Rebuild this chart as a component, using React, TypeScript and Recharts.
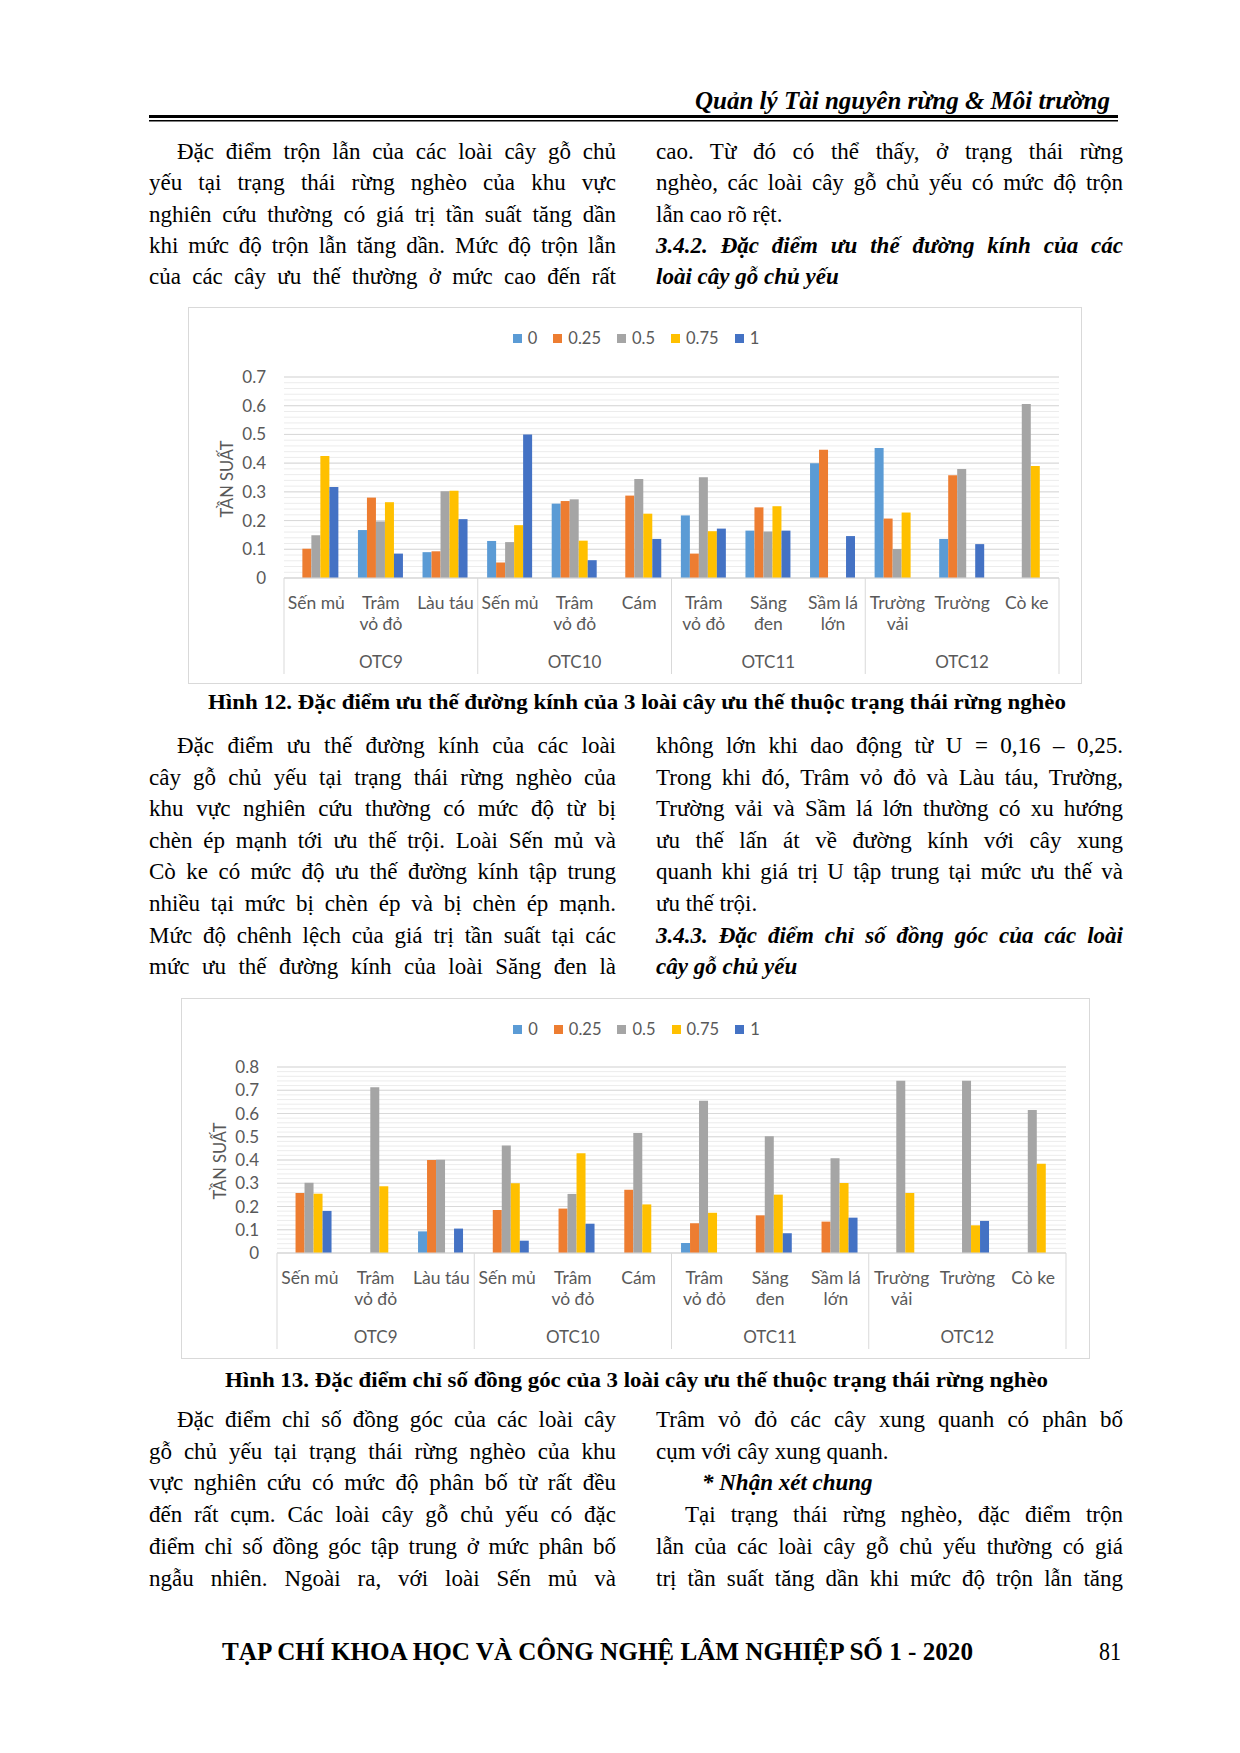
import React from 'react';
import { BarChart, Bar, XAxis, YAxis, CartesianGrid } from 'recharts';

// categories
const species = ['Sến mủ', 'Trâm vỏ đỏ', 'Làu táu', 'Sến mủ', 'Trâm vỏ đỏ', 'Cám', 'Trâm vỏ đỏ', 'Săng đen', 'Sầm lá lớn', 'Trường vải', 'Trường', 'Cò ke'];
const plots = ['OTC9', 'OTC10', 'OTC11', 'OTC12'];
const levels = ['0', '0.25', '0.5', '0.75', '1'];
const levelColors = ['#5B9BD5', '#ED7D31', '#A5A5A5', '#FFC000', '#4472C4'];

// Hình 12 - ưu thế đường kính
const dia0 = [0, 0.167, 0.09, 0.129, 0.259, 0, 0.218, 0.165, 0.4, 0.453, 0.136, 0];
const dia025 = [0.102, 0.28, 0.093, 0.054, 0.268, 0.287, 0.085, 0.246, 0.447, 0.207, 0.358, 0];
const dia05 = [0.149, 0.197, 0.302, 0.125, 0.274, 0.345, 0.351, 0.162, 0, 0.101, 0.38, 0.606];
const dia075 = [0.425, 0.264, 0.304, 0.184, 0.13, 0.224, 0.163, 0.25, 0, 0.228, 0, 0.39];
const dia1 = [0.317, 0.085, 0.205, 0.5, 0.062, 0.136, 0.172, 0.165, 0.146, 0, 0.118, 0];
const diaTicks = [0, 0.1, 0.2, 0.3, 0.4, 0.5, 0.6, 0.7];

// Hình 13 - chỉ số đồng góc
const ang0 = [0, 0, 0.093, 0, 0, 0, 0.043, 0, 0, 0, 0, 0];
const ang025 = [0.258, 0, 0.4, 0.185, 0.191, 0.272, 0.128, 0.162, 0.135, 0, 0, 0];
const ang05 = [0.302, 0.713, 0.401, 0.462, 0.254, 0.516, 0.655, 0.502, 0.407, 0.741, 0.741, 0.615];
const ang075 = [0.255, 0.287, 0, 0.3, 0.429, 0.209, 0.173, 0.251, 0.301, 0.258, 0.119, 0.384];
const ang1 = [0.181, 0, 0.105, 0.053, 0.126, 0, 0, 0.085, 0.152, 0, 0.138, 0];
const angTicks = [0, 0.1, 0.2, 0.3, 0.4, 0.5, 0.6, 0.7, 0.8];

// page text
type Line = { t: string; j?: boolean; ind?: number; bi?: boolean };

const para1L: Line[] = [
  { t: 'Đặc điểm trộn lẫn của các loài cây gỗ chủ', j: true, ind: 28 },
  { t: 'yếu tại trạng thái rừng nghèo của khu vực', j: true },
  { t: 'nghiên cứu thường có giá trị tần suất tăng dần', j: true },
  { t: 'khi mức độ trộn lẫn tăng dần. Mức độ trộn lẫn', j: true },
  { t: 'của các cây ưu thế thường ở mức cao đến rất', j: true },
];
const para1R: Line[] = [
  { t: 'cao. Từ đó có thể thấy, ở trạng thái rừng', j: true },
  { t: 'nghèo, các loài cây gỗ chủ yếu có mức độ trộn', j: true },
  { t: 'lẫn cao rõ rệt.' },
  { t: '3.4.2. Đặc điểm ưu thế đường kính của các', j: true, bi: true },
  { t: 'loài cây gỗ chủ yếu', bi: true },
];
const para2L: Line[] = [
  { t: 'Đặc điểm ưu thế đường kính của các loài', j: true, ind: 28 },
  { t: 'cây gỗ chủ yếu tại trạng thái rừng nghèo của', j: true },
  { t: 'khu vực nghiên cứu thường có mức độ từ bị', j: true },
  { t: 'chèn ép mạnh tới ưu thế trội. Loài Sến mủ và', j: true },
  { t: 'Cò ke có mức độ ưu thế đường kính tập trung', j: true },
  { t: 'nhiều tại mức bị chèn ép và bị chèn ép mạnh.', j: true },
  { t: 'Mức độ chênh lệch của giá trị tần suất tại các', j: true },
  { t: 'mức ưu thế đường kính của loài Săng đen là', j: true },
];
const para2R: Line[] = [
  { t: 'không lớn khi dao động từ U = 0,16 – 0,25.', j: true },
  { t: 'Trong khi đó, Trâm vỏ đỏ và Làu táu, Trường,', j: true },
  { t: 'Trường vải và Sầm lá lớn thường có xu hướng', j: true },
  { t: 'ưu thế lấn át về đường kính với cây xung', j: true },
  { t: 'quanh khi giá trị U tập trung tại mức ưu thế và', j: true },
  { t: 'ưu thế trội.' },
  { t: '3.4.3. Đặc điểm chỉ số đồng góc của các loài', j: true, bi: true },
  { t: 'cây gỗ chủ yếu', bi: true },
];
const para3L: Line[] = [
  { t: 'Đặc điểm chỉ số đồng góc của các loài cây', j: true, ind: 28 },
  { t: 'gỗ chủ yếu tại trạng thái rừng nghèo của khu', j: true },
  { t: 'vực nghiên cứu có mức độ phân bố từ rất đều', j: true },
  { t: 'đến rất cụm. Các loài cây gỗ chủ yếu có đặc', j: true },
  { t: 'điểm chỉ số đồng góc tập trung ở mức phân bố', j: true },
  { t: 'ngẫu nhiên. Ngoài ra, với loài Sến mủ và', j: true },
];
const para3R: Line[] = [
  { t: 'Trâm vỏ đỏ các cây xung quanh có phân bố', j: true },
  { t: 'cụm với cây xung quanh.' },
  { t: '* Nhận xét chung', bi: true, ind: 46 },
  { t: 'Tại trạng thái rừng nghèo, đặc điểm trộn', j: true, ind: 29 },
  { t: 'lẫn của các loài cây gỗ chủ yếu thường có giá', j: true },
  { t: 'trị tần suất tăng dần khi mức độ trộn lẫn tăng', j: true },
];

const wrapped: Record<string, string[]> = {
  'Trâm vỏ đỏ': ['Trâm', 'vỏ đỏ'],
  'Săng đen': ['Săng', 'đen'],
  'Sầm lá lớn': ['Sầm lá', 'lớn'],
  'Trường vải': ['Trường', 'vải'],
};

const chartFont = 'Lato, "Open Sans", sans-serif';
const gray = '#595959';

const TextCol = ({ x, y0, step, lines }: { x: number; y0: number; step: number; lines: Line[] }) => (
  <>
    {lines.map((l, k) => (
      <div
        key={k}
        style={{
          position: 'absolute',
          left: x + (l.ind || 0),
          top: y0 + k * step - 16,
          width: 467 - (l.ind || 0),
          height: 31,
          lineHeight: '31px',
          fontSize: 23,
          textAlign: 'justify',
          textAlignLast: l.j ? 'justify' : 'left',
          fontWeight: l.bi ? 700 : 400,
          fontStyle: l.bi ? 'italic' : 'normal',
        }}
      >
        {l.t}
      </div>
    ))}
  </>
);

const Legend = ({ cx, cy }: { cx: number; cy: number }) => (
  <div
    style={{
      position: 'absolute',
      left: cx - 200,
      width: 400,
      top: cy - 10,
      height: 20,
      display: 'flex',
      justifyContent: 'center',
      alignItems: 'center',
      gap: 16,
      fontFamily: chartFont,
      fontSize: 16.5,
      color: gray,
    }}
  >
    {levels.map((lv, i) => (
      <div key={lv} style={{ display: 'flex', alignItems: 'center', gap: 6 }}>
        <span style={{ width: 9, height: 9, background: levelColors[i], display: 'inline-block' }} />
        <span>{lv}</span>
      </div>
    ))}
  </div>
);

const makeTick = (band: number) => (props: any) => {
  const { x, y, payload } = props;
  const i = Number(payload.value);
  const name = species[i];
  const lines = wrapped[name] || [name];
  return (
    <g>
      {lines.map((ln, k) => (
        <text key={k} x={x} y={y + 24 + k * 21} textAnchor="middle" dominantBaseline="central" fill={gray} fontSize={17.5} fontFamily={chartFont}>
          {ln}
        </text>
      ))}
      {i % 3 === 0 && <line x1={x - band / 2} x2={x - band / 2} y1={y} y2={y + 96} stroke="#d9d9d9" />}
      {i === species.length - 1 && <line x1={x + band / 2} x2={x + band / 2} y1={y} y2={y + 96} stroke="#d9d9d9" />}
      {i % 3 === 1 && (
        <text x={x} y={y + 83} textAnchor="middle" dominantBaseline="central" fill={gray} fontSize={17} fontFamily={chartFont}>
          {plots[Math.floor(i / 3)]}
        </text>
      )}
    </g>
  );
};

type ChartProps = {
  left: number;
  top: number;
  width: number;
  height: number;
  marginTop: number;
  marginRight: number;
  series: number[][];
  ticks: number[];
};

const GroupedChart = ({ left, top, width, height, marginTop, marginRight, series, ticks }: ChartProps) => {
  const data = species.map((name, i) => {
    const row: Record<string, number | string> = { idx: i, name };
    levels.forEach((lv, s) => {
      row['v' + s] = series[s][i];
    });
    return row;
  });
  const yMax = ticks[ticks.length - 1];
  const plotW = width - 96 - marginRight;
  const band = plotW / species.length;
  const minor: number[] = [];
  for (let k = 0; k <= Math.round(yMax / 0.02); k++) minor.push(k * 0.02);
  const plotTop = marginTop;
  const plotBottom = height - 106;
  return (
    <div
      style={{
        position: 'absolute',
        left,
        top,
        width,
        height,
        boxSizing: 'border-box',
        border: '1px solid #d9d9d9',
        background: '#fff',
      }}
    >
      <div style={{ position: 'absolute', left: -1, top: -1 }}>
        <BarChart
          width={width}
          height={height}
          data={data}
          margin={{ top: marginTop, right: marginRight, left: 0, bottom: 0 }}
          barCategoryGap="14.5%"
          barGap={0}
        >
          <CartesianGrid vertical={false} horizontalValues={minor} stroke="#ececec" />
          <CartesianGrid vertical={false} stroke="#d9d9d9" />
          <XAxis
            dataKey="idx"
            type="category"
            interval={0}
            height={106}
            tickSize={0}
            tickMargin={0}
            tickLine={false}
            axisLine={{ stroke: '#d9d9d9' }}
            tick={makeTick(band)}
          />
          <YAxis
            width={96}
            domain={[0, yMax]}
            ticks={ticks}
            interval={0}
            axisLine={false}
            tickLine={false}
            tickSize={0}
            tickMargin={18}
            tick={{ fill: gray, fontSize: 17, fontFamily: chartFont }}
          />
          {levels.map((lv, s) => (
            <Bar key={lv} dataKey={'v' + s} name={lv} fill={levelColors[s]} isAnimationActive={false} />
          ))}
        </BarChart>
      </div>
      <Legend cx={width / 2} cy={30} />
      <div
        style={{
          position: 'absolute',
          left: 38 - 60,
          top: (plotTop + plotBottom) / 2 - 11,
          width: 120,
          height: 22,
          lineHeight: '22px',
          textAlign: 'center',
          transform: 'rotate(-90deg)',
          fontFamily: chartFont,
          fontSize: 16.5,
          color: gray,
        }}
      >
        TẦN SUẤT
      </div>
    </div>
  );
};

const App = () => {
  return (
    <div
      style={{
        position: 'absolute',
        left: 0,
        top: 0,
        width: 1240,
        height: 1753,
        background: '#fff',
        fontFamily: '"Liberation Serif", "Times New Roman", serif',
        color: '#000',
        overflow: 'hidden',
      }}
    >
      <svg width={1240} height={1753} style={{ position: 'absolute', left: 0, top: 0 }}>
        <text x={695} y={109} fontSize={25} fontWeight={700} fontStyle="italic" textLength={415} lengthAdjust="spacingAndGlyphs" fontFamily='"Liberation Serif", serif'>
          Quản lý Tài nguyên rừng &amp; Môi trường
        </text>
        <rect x={149} y={115} width={969} height={3} fill="#000" />
        <rect x={149} y={120} width={969} height={1.5} fill="#000" />
        <text x={208} y={709} fontSize={21} fontWeight={700} textLength={858} lengthAdjust="spacingAndGlyphs" fontFamily='"Liberation Serif", serif'>
          Hình 12. Đặc điểm ưu thế đường kính của 3 loài cây ưu thế thuộc trạng thái rừng nghèo
        </text>
        <text x={225} y={1387} fontSize={21} fontWeight={700} textLength={823} lengthAdjust="spacingAndGlyphs" fontFamily='"Liberation Serif", serif'>
          Hình 13. Đặc điểm chỉ số đồng góc của 3 loài cây ưu thế thuộc trạng thái rừng nghèo
        </text>
        <text x={222} y={1660} fontSize={25} fontWeight={700} textLength={751} lengthAdjust="spacingAndGlyphs" fontFamily='"Liberation Serif", serif'>
          TẠP CHÍ KHOA HỌC VÀ CÔNG NGHỆ LÂM NGHIỆP SỐ 1 - 2020
        </text>
        <text x={1099} y={1660} fontSize={25} textLength={22} lengthAdjust="spacingAndGlyphs" fontFamily='"Liberation Serif", serif'>
          81
        </text>
      </svg>

      <TextCol x={149} y0={152} step={31.3} lines={para1L} />
      <TextCol x={656} y0={152} step={31.3} lines={para1R} />

      <GroupedChart left={188} top={307} width={894} height={377} marginTop={70} marginRight={23} series={[dia0, dia025, dia05, dia075, dia1]} ticks={diaTicks} />

      <TextCol x={149} y0={746} step={31.6} lines={para2L} />
      <TextCol x={656} y0={746} step={31.6} lines={para2R} />

      <GroupedChart left={181} top={998} width={909} height={361} marginTop={69} marginRight={24} series={[ang0, ang025, ang05, ang075, ang1]} ticks={angTicks} />

      <TextCol x={149} y0={1420} step={31.7} lines={para3L} />
      <TextCol x={656} y0={1420} step={31.7} lines={para3R} />
    </div>
  );
};

export default App;
